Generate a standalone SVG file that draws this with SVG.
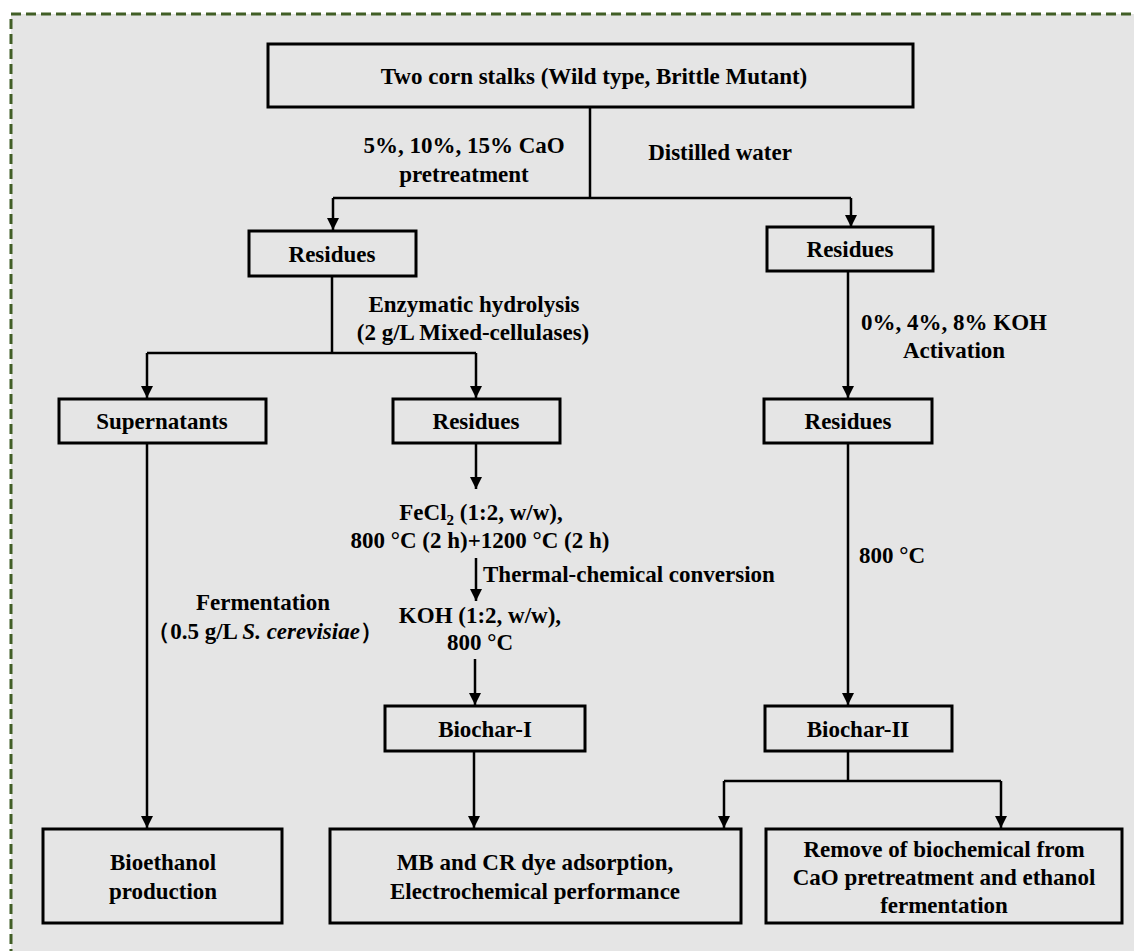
<svg xmlns="http://www.w3.org/2000/svg" width="1134" height="951" viewBox="0 0 1134 951">
<defs>
<marker id="arr" markerUnits="userSpaceOnUse" markerWidth="12" markerHeight="13" refX="12" refY="6" orient="auto" viewBox="0 0 12 12">
<path d="M0,0 L12,6 L0,12 z" fill="#000"/>
</marker>
</defs>
<style>
.box{fill:none;stroke:#000;stroke-width:3}
.t{font-family:"Liberation Serif","Times New Roman",serif;font-weight:bold;font-size:23px;fill:#000;text-anchor:middle}
.ts{font-family:"Liberation Serif","Times New Roman",serif;font-weight:bold;font-size:23px;fill:#000;text-anchor:start}
.c{fill:none;stroke:#000;stroke-width:2.5}
.a{fill:none;stroke:#000;stroke-width:2.5;marker-end:url(#arr)}
</style>
<rect x="0" y="0" width="1134" height="951" fill="#fff"/>
<rect id="frame" x="11" y="14" width="1140" height="960" fill="#e5e5e5" stroke="#415e26" stroke-width="3" stroke-dasharray="10 5"/>

<g id="connectors">
<path class="c" d="M590,107 V198"/>
<path class="c" d="M333,198 H851"/>
<path class="a" d="M333,198 V230"/>
<path class="a" d="M851,198 V227"/>
<path class="c" d="M332,276 V353"/>
<path class="c" d="M147,353 H476"/>
<path class="a" d="M147,353 V398"/>
<path class="a" d="M476,353 V398"/>
<path class="a" d="M476,443 V489"/>
<path class="a" d="M476,558 V601"/>
<path class="a" d="M475,659 V705"/>
<path class="a" d="M474,751 V828"/>
<path class="a" d="M147,443 V828"/>
<path class="a" d="M848,271 V398"/>
<path class="a" d="M848,443 V705"/>
<path class="c" d="M848,751 V781"/>
<path class="c" d="M724,781 H1001"/>
<path class="a" d="M724,781 V828"/>
<path class="a" d="M1001,781 V828"/>
</g>

<g id="labels">
<text class="t" x="464" y="153">5%, 10%, 15% CaO</text>
<text class="t" x="464" y="182">pretreatment</text>
<text class="t" x="720" y="160">Distilled water</text>
<text class="t" x="474" y="312">Enzymatic hydrolysis</text>
<text class="t" x="473" y="340">(2 g/L Mixed-cellulases)</text>
<text class="t" x="954" y="330">0%, 4%, 8% KOH</text>
<text class="t" x="954" y="358">Activation</text>
<text class="t" x="481" y="520">FeCl<tspan font-size="15" dy="5">2</tspan><tspan dy="-5"> (1:2, w/w),</tspan></text>
<text class="t" x="480" y="548">800 °C (2 h)+1200 °C (2 h)</text>
<text class="ts" x="483" y="582">Thermal-chemical conversion</text>
<text class="t" x="480" y="623">KOH (1:2, w/w),</text>
<text class="t" x="480" y="650">800 °C</text>
<text class="ts" x="859" y="563">800 °C</text>
<text class="t" x="263" y="610">Fermentation</text>
<text class="t" x="265" y="639">（0.5 g/L <tspan font-style="italic">S. cerevisiae</tspan>）</text>
</g>

<g id="n-top"><rect class="box" x="268" y="44" width="645" height="63"/><text class="t" x="594" y="84">Two corn stalks (Wild type, Brittle Mutant)</text></g>
<g id="n-res-left"><rect class="box" x="249" y="231" width="167" height="45"/><text class="t" x="332" y="262">Residues</text></g>
<g id="n-res-right"><rect class="box" x="767" y="227" width="166" height="44"/><text class="t" x="850" y="257">Residues</text></g>
<g id="n-super"><rect class="box" x="59" y="399" width="207" height="44"/><text class="t" x="162" y="429">Supernatants</text></g>
<g id="n-res-mid"><rect class="box" x="393" y="399" width="167" height="44"/><text class="t" x="476" y="429">Residues</text></g>
<g id="n-res-right2"><rect class="box" x="764" y="399" width="168" height="44"/><text class="t" x="848" y="429">Residues</text></g>
<g id="n-biochar1"><rect class="box" x="385" y="706" width="200" height="45"/><text class="t" x="485" y="737">Biochar-I</text></g>
<g id="n-biochar2"><rect class="box" x="765" y="706" width="187" height="45"/><text class="t" x="858" y="737">Biochar-II</text></g>
<g id="n-bioethanol"><rect class="box" x="43" y="829" width="239" height="94"/><text class="t" x="163" y="870">Bioethanol</text><text class="t" x="163" y="899">production</text></g>
<g id="n-mb"><rect class="box" x="330" y="829" width="411" height="94"/><text class="t" x="535" y="870">MB and CR dye adsorption,</text><text class="t" x="535" y="899">Electrochemical performance</text></g>
<g id="n-remove"><rect class="box" x="766" y="829" width="356" height="94"/><text class="t" x="944" y="857">Remove of biochemical from</text><text class="t" x="944" y="885">CaO pretreatment and ethanol</text><text class="t" x="944" y="913">fermentation</text></g>
</svg>
